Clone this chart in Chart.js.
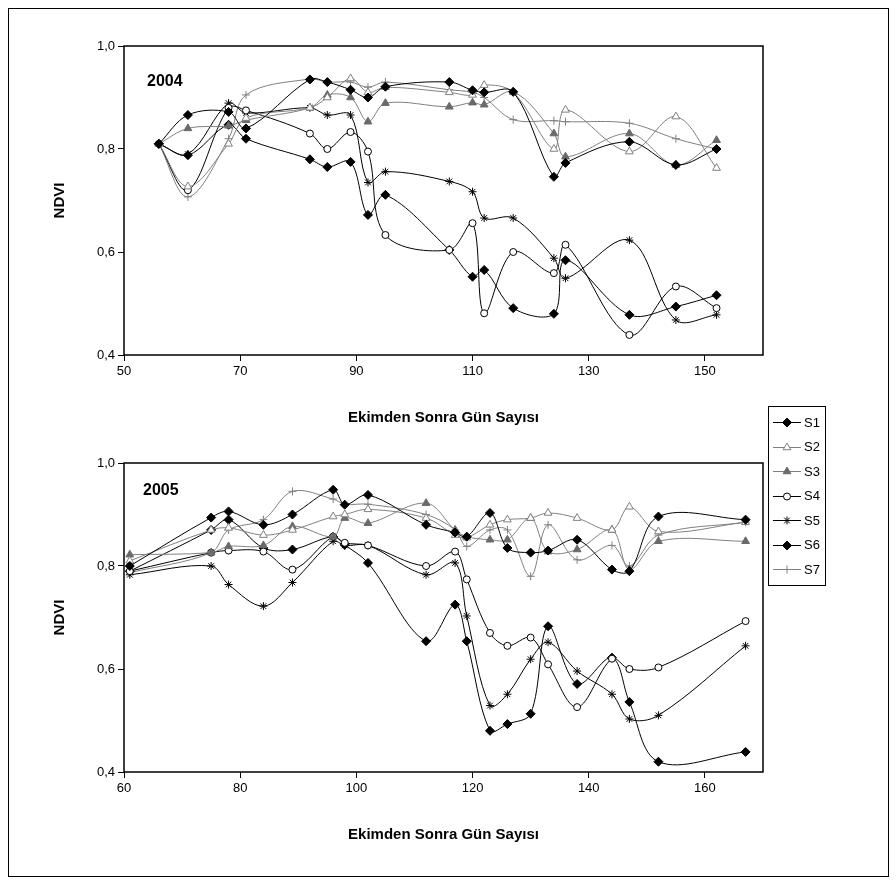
<!DOCTYPE html>
<html>
<head>
<meta charset="utf-8">
<script src="https://cdn.jsdelivr.net/npm/chart.js@4.4.0/dist/chart.umd.min.js"></script>
<style>
  body { margin: 0; background: #fff; width: 896px; height: 884px; position: relative; overflow: hidden;
         font-family: "Liberation Sans", Arial, sans-serif; }
  #frame { position: absolute; left: 8px; top: 8px; width: 879px; height: 867px; border: 1px solid #000; }
  .wrap { position: absolute; left: 0; width: 896px; height: 440px; }
  .tag { position: absolute; font: bold 16px "Liberation Sans", Arial, sans-serif; color: #000; }
  #legend { position: absolute; left: 768px; top: 406px; width: 56px; border: 1px solid #000; background: #fff; padding: 3px 0; }
  #legend div { height: 24.5px; display: flex; align-items: center; font-size: 13px; }
  #legend canvas { margin: 0 2px 0 3px; }
</style>
</head>
<body>
<div id="frame"></div>
<div class="wrap" style="top:0"><canvas id="c2004" width="896" height="440"></canvas></div>
<div class="wrap" style="top:417px"><canvas id="c2005" width="896" height="440"></canvas></div>
<div class="tag" style="left:147px;top:72px">2004</div>
<div class="tag" style="left:143px;top:481px">2005</div>
<div id="legend"></div>
<script>
// 2004 season: days after sowing, NDVI per field
const days2004 = [56, 61, 68, 71, 82, 85, 89, 92, 95, 106, 110, 112, 117, 124, 126, 137, 145, 152];
const s1_2004 = [0.81, 0.866, 0.872, 0.84, 0.935, 0.93, 0.915, 0.90, 0.921, 0.93, 0.914, 0.91, 0.911, 0.746, 0.773, 0.814, 0.769, 0.80];
const s2_2004 = [0.81, 0.727, 0.81, 0.86, 0.88, 0.90, 0.937, 0.91, 0.92, 0.91, 0.905, 0.924, 0.91, 0.80, 0.876, 0.795, 0.863, 0.763];
const s3_2004 = [0.81, 0.84, 0.845, 0.856, 0.88, 0.905, 0.90, 0.853, 0.889, 0.882, 0.89, 0.886, 0.911, 0.83, 0.785, 0.83, 0.769, 0.817];
const s4_2004 = [0.81, 0.72, 0.88, 0.875, 0.83, 0.80, 0.833, 0.795, 0.633, 0.604, 0.656, 0.481, 0.60, 0.559, 0.614, 0.439, 0.533, 0.491];
const s5_2004 = [0.81, 0.79, 0.889, 0.87, 0.88, 0.866, 0.866, 0.735, 0.756, 0.737, 0.717, 0.666, 0.666, 0.588, 0.549, 0.623, 0.468, 0.478];
const s6_2004 = [0.81, 0.788, 0.847, 0.82, 0.78, 0.765, 0.775, 0.672, 0.711, 0.604, 0.552, 0.565, 0.491, 0.48, 0.584, 0.478, 0.494, 0.516];
const s7_2004 = [0.81, 0.707, 0.82, 0.905, 0.936, 0.93, 0.93, 0.92, 0.93, 0.915, 0.91, 0.90, 0.857, 0.855, 0.853, 0.85, 0.82, 0.80];

// 2005 season
const days2005 = [61, 75, 78, 84, 89, 96, 98, 102, 112, 117, 119, 123, 126, 130, 133, 138, 144, 147, 152, 167];
const s1_2005 = [0.80, 0.894, 0.906, 0.88, 0.90, 0.948, 0.919, 0.938, 0.88, 0.865, 0.857, 0.903, 0.835, 0.826, 0.83, 0.851, 0.793, 0.79, 0.896, 0.89];
const s2_2005 = [0.81, 0.87, 0.874, 0.86, 0.87, 0.896, 0.90, 0.91, 0.893, 0.86, 0.855, 0.88, 0.89, 0.893, 0.903, 0.893, 0.87, 0.915, 0.867, 0.885];
const s3_2005 = [0.822, 0.826, 0.838, 0.84, 0.877, 0.857, 0.893, 0.883, 0.922, 0.87, 0.857, 0.851, 0.851, 0.893, 0.828, 0.832, 0.87, 0.793, 0.848, 0.848];
const s4_2005 = [0.79, 0.826, 0.83, 0.828, 0.793, 0.857, 0.845, 0.84, 0.80, 0.828, 0.774, 0.67, 0.645, 0.661, 0.609, 0.526, 0.62, 0.60, 0.603, 0.693];
const s5_2005 = [0.783, 0.80, 0.764, 0.722, 0.768, 0.848, 0.84, 0.84, 0.783, 0.806, 0.703, 0.529, 0.551, 0.619, 0.652, 0.596, 0.551, 0.503, 0.51, 0.645];
const s6_2005 = [0.79, 0.87, 0.89, 0.835, 0.832, 0.857, 0.841, 0.806, 0.654, 0.725, 0.654, 0.48, 0.493, 0.513, 0.683, 0.571, 0.622, 0.536, 0.42, 0.439];
const s7_2005 = [0.787, 0.826, 0.87, 0.89, 0.945, 0.93, 0.92, 0.92, 0.90, 0.87, 0.838, 0.87, 0.87, 0.78, 0.88, 0.812, 0.84, 0.80, 0.86, 0.885];

const seriesNames = ["S1", "S2", "S3", "S4", "S5", "S6", "S7"];
const xTicks2004 = [50, 70, 90, 110, 130, 150];
const xTicks2005 = [60, 80, 100, 120, 140, 160];
const yTicks = [0.4, 0.6, 0.8, 1.0];
const xTitle = "Ekimden Sonra Gün Sayısı";
const yTitle = "NDVI";

// marker / line look for each series
const GREY = "#808080";
const styles = [
  { line: "#000", style: "rectRot", fill: "#000", edge: "#000", r: 4.5 },
  { line: GREY, style: "triangle", fill: "#fff", edge: GREY, r: 4.5 },
  { line: GREY, style: "triangle", fill: "#6a6a6a", edge: "#6a6a6a", r: 4.5 },
  { line: "#000", style: "circle", fill: "#fff", edge: "#000", r: 3.5 },
  { line: "#000", style: "star", fill: "#000", edge: "#000", r: 4 },
  { line: "#000", style: "rectRot", fill: "#000", edge: "#000", r: 4.5 },
  { line: GREY, style: "cross", fill: GREY, edge: GREY, r: 4 }
];

function makeSets(days, lists) {
  return lists.map((vals, i) => ({
    label: seriesNames[i],
    data: days.map((d, k) => ({ x: d, y: vals[k] })),
    borderColor: styles[i].line,
    borderWidth: 1,
    tension: 0.35,
    fill: false,
    pointStyle: styles[i].style,
    pointRadius: styles[i].r,
    pointBackgroundColor: styles[i].fill,
    pointBorderColor: styles[i].edge,
    pointBorderWidth: 1
  }));
}

const frameBox = {
  id: "frameBox",
  afterDraw(chart) {
    const a = chart.chartArea, ctx = chart.ctx;
    ctx.save();
    ctx.strokeStyle = "#000";
    ctx.lineWidth = 1.5;
    ctx.strokeRect(a.left, a.top, a.right - a.left, a.bottom - a.top);
    ctx.restore();
  }
};

function makeChart(id, days, lists, xmin, xmax, xTicks) {
  return new Chart(document.getElementById(id), {
    type: "line",
    data: { datasets: makeSets(days, lists) },
    options: {
      responsive: false,
      animation: false,
      devicePixelRatio: 1,
      layout: { padding: { left: 47, top: 46, right: 133, bottom: 9 } },
      plugins: { legend: { display: false }, tooltip: { enabled: false } },
      scales: {
        x: {
          type: "linear", min: xmin, max: xmax,
          afterBuildTicks: s => { s.ticks = xTicks.map(v => ({ value: v })); },
          afterFit: s => { s.height = 76; },
          border: { display: false },
          grid: { drawOnChartArea: false, drawTicks: true, tickLength: 6, color: "#000" },
          ticks: { color: "#000", font: { family: "Liberation Sans", size: 13 }, padding: 3, maxRotation: 0 },
          title: { display: true, text: xTitle, color: "#000", font: { family: "Liberation Sans", size: 15, weight: "bold" } }
        },
        y: {
          min: 0.4, max: 1.0,
          afterBuildTicks: s => { s.ticks = yTicks.map(v => ({ value: v })); },
          afterFit: s => { s.width = 77; },
          border: { display: false },
          grid: { drawOnChartArea: false, drawTicks: true, tickLength: 6, color: "#000" },
          ticks: { color: "#000", font: { family: "Liberation Sans", size: 13 }, padding: 3,
                   callback: v => v.toFixed(1).replace(".", ",") },
          title: { display: true, text: yTitle, color: "#000", font: { family: "Liberation Sans", size: 15, weight: "bold" } }
        }
      }
    },
    plugins: [frameBox]
  });
}

makeChart("c2004", days2004, [s1_2004, s2_2004, s3_2004, s4_2004, s5_2004, s6_2004, s7_2004], 50, 160, xTicks2004);
makeChart("c2005", days2005, [s1_2005, s2_2005, s3_2005, s4_2005, s5_2005, s6_2005, s7_2005], 60, 170, xTicks2005);

// legend box between the two panels
const legend = document.getElementById("legend");
seriesNames.forEach((name, i) => {
  const row = document.createElement("div");
  const cv = document.createElement("canvas");
  cv.width = 30; cv.height = 14;
  const ctx = cv.getContext("2d");
  ctx.strokeStyle = styles[i].line;
  ctx.lineWidth = 1;
  ctx.beginPath(); ctx.moveTo(1, 7.5); ctx.lineTo(29, 7.5); ctx.stroke();
  ctx.fillStyle = styles[i].fill;
  ctx.strokeStyle = styles[i].edge;
  Chart.helpers.drawPoint(ctx, { pointStyle: styles[i].style, radius: styles[i].r, rotation: 0, borderWidth: 1 }, 15, 7.5);
  row.appendChild(cv);
  row.appendChild(document.createTextNode(name));
  legend.appendChild(row);
});
</script>
</body>
</html>
